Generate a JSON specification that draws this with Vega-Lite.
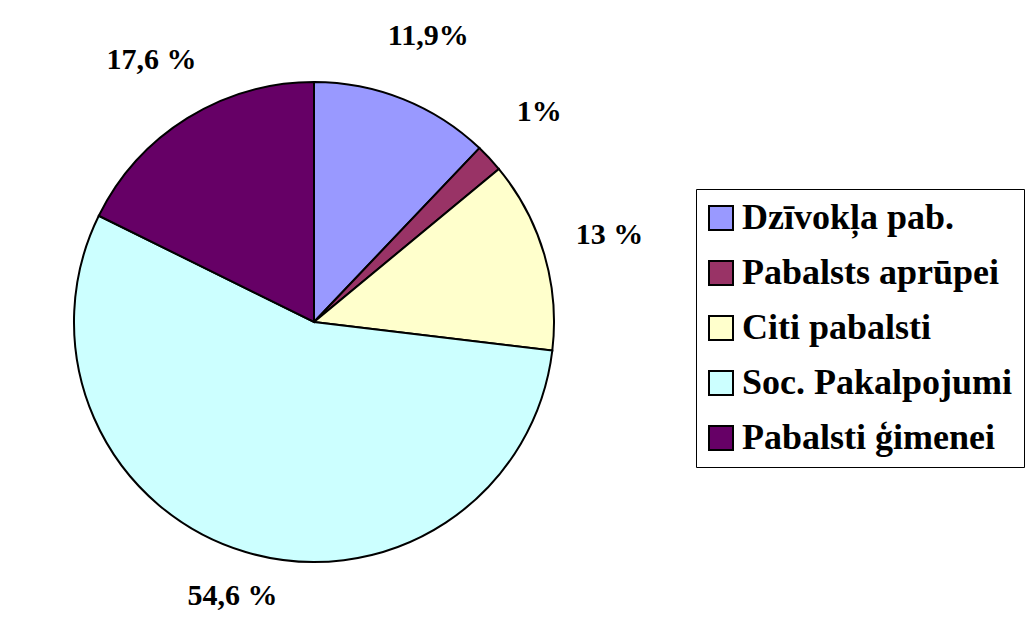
{
  "$schema": "https://vega.github.io/schema/vega-lite/v6.json",
  "width": 628,
  "height": 602,
  "autosize": {"type": "none"},
  "padding": {"left": 0, "top": 21, "right": 398, "bottom": 0},
  "background": "white",
  "config": {
    "view": {"stroke": null},
    "legend": {
      "strokeColor": "black",
      "fillColor": "white",
      "padding": 11,
      "symbolStrokeWidth": 2,
      "symbolStrokeColor": "black",
      "symbolOffset": -4
    }
  },
  "data": {
    "values": [
      {"idx": 1, "category": "Dzīvokļa pab.", "share": 12.1, "label": "11,9%"},
      {"idx": 2, "category": "Pabalsts aprūpei", "share": 1.9, "label": "1%"},
      {"idx": 3, "category": "Citi pabalsti", "share": 12.9, "label": "13 %"},
      {"idx": 4, "category": "Soc. Pakalpojumi", "share": 55.4, "label": "54,6 %"},
      {"idx": 5, "category": "Pabalsti ģimenei", "share": 17.7, "label": "17,6 %"}
    ]
  },
  "encoding": {
    "theta": {"field": "share", "type": "quantitative", "stack": true},
    "order": {"field": "idx", "type": "quantitative"}
  },
  "layer": [
    {
      "mark": {"type": "arc", "outerRadius": 240, "stroke": "black", "strokeWidth": 2},
      "encoding": {
        "color": {
          "field": "category",
          "type": "nominal",
          "scale": {
            "domain": ["Dzīvokļa pab.", "Pabalsts aprūpei", "Citi pabalsti", "Soc. Pakalpojumi", "Pabalsti ģimenei"],
            "range": ["#9999FF", "#993366", "#FFFFCC", "#CCFFFF", "#660066"]
          },
          "legend": {
            "title": null,
            "orient": "none",
            "legendX": 696,
            "legendY": 168,
            "symbolType": "square",
            "symbolSize": 576,
            "labelFont": "Liberation Serif",
            "labelFontWeight": "bold",
            "labelFontSize": 36,
            "labelColor": "black",
            "labelOffset": 3,
            "labelLimit": 400,
            "rowPadding": 19
          }
        }
      }
    },
    {
      "mark": {
        "type": "text",
        "radius": {"expr": "datum.idx == 4 ? 286 : 308"},
        "font": "Liberation Serif",
        "fontWeight": "bold",
        "fontSize": 30,
        "color": "black",
        "baseline": "middle",
        "align": "center"
      },
      "encoding": {
        "text": {"field": "label", "type": "nominal"}
      }
    }
  ]
}
